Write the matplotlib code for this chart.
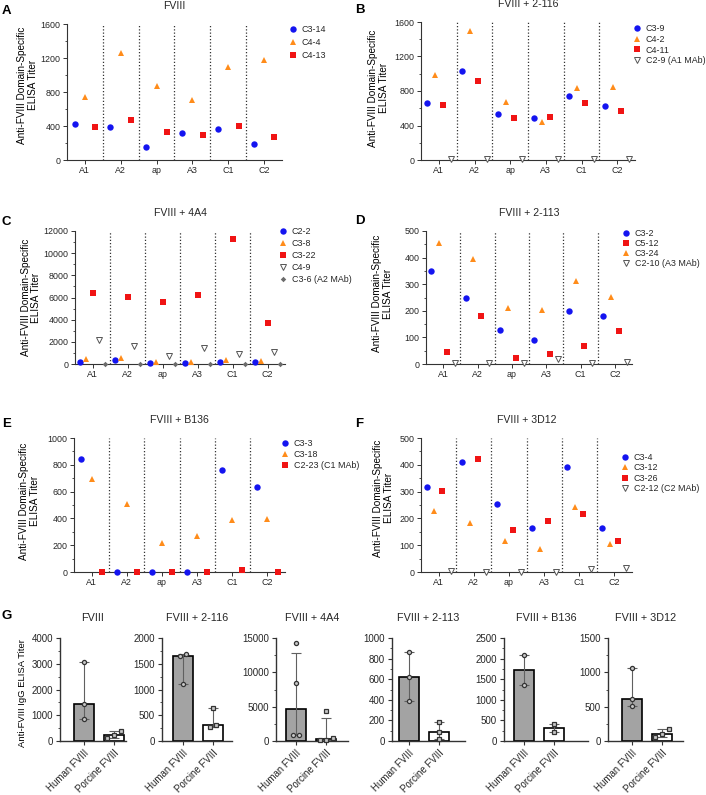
import numpy as np
import matplotlib
matplotlib.use("Agg")
import matplotlib.pyplot as plt
from matplotlib.ticker import MultipleLocator

# ==========================================================
# DATA
# ==========================================================

domains = ["A1", "A2", "ap", "A3", "C1", "C2"]

# A - FVIII
a_c3_14 = [428, 385, 153, 318, 370, 185]
a_c4_4 = [743, 1262, 876, 711, 1093, 1175]
a_c4_13 = [393, 468, 330, 295, 405, 271]

# B - FVIII + 2-116
b_c3_9 = [656, 1029, 532, 489, 742, 625]
b_c4_2 = [983, 1499, 676, 443, 839, 847]
b_c4_11 = [641, 920, 482, 501, 664, 571]
b_c2_9 = [15, 15, 15, 15, 15, 15]

# C - FVIII + 4A4
c_c2_2 = [180, 330, 120, 90, 180, 180]
c_c3_8 = [450, 570, 210, 180, 360, 240]
c_c3_22 = [6406, 6075, 5564, 6226, 11308, 3729]
c_c4_9 = [2195, 1654, 722, 1444, 872, 1113]
c_c3_6 = [0, 0, 0, 0, 0, 0]

# D - FVIII + 2-113
d_c3_2 = [349, 250, 128, 91, 198, 179]
d_c5_12 = [44, 180, 24, 36, 69, 124]
d_c3_24 = [455, 394, 211, 203, 311, 252]
d_c2_10 = [2, 2, 2, 17, 2, 8]

# E - FVIII + B136
e_c3_3 = [846, 0, 0, 0, 761, 637]
e_c3_18 = [692, 507, 219, 269, 386, 396]
e_c2_23 = [0, 0, 0, 0, 17, 2]

# F - FVIII + 3D12
f_c3_4 = [316, 412, 252, 164, 393, 163]
f_c3_12 = [228, 183, 117, 86, 244, 103]
f_c3_26 = [302, 420, 158, 190, 216, 116]
f_c2_12 = [5, 1, 1, 1, 10, 15]

# G - total IgG titers, individual animals
g_titles = ["FVIII", "FVIII + 2-116", "FVIII + 4A4",
            "FVIII + 2-113", "FVIII + B136", "FVIII + 3D12"]
g_groups = ["Human FVIII", "Porcine FVIII"]
g_human = [[3060, 1440, 870], [1680, 1660, 1100], [14200, 8500, 870, 850],
           [860, 625, 385], [2090, 1370], [1060, 610, 505]]
g_porcine = [[390, 230, 130], [650, 320, 270], [4300, 450, 170, 150],
             [185, 90, 15], [420, 220], [175, 105, 55]]

# ==========================================================
# STYLE / LAYOUT
# ==========================================================

W, H = 706, 795
BLUE = "#1414f0"
ORANGE = "#ff8c1a"
RED = "#f01414"
TXT = "#262626"

plt.rcParams["font.family"] = ["Liberation Sans", "DejaVu Sans"]
plt.rcParams["text.color"] = TXT
plt.rcParams["axes.edgecolor"] = "#333333"
plt.rcParams["axes.linewidth"] = 0.8

dot = dict(marker="o", color=BLUE, ms=4.6, mew=0)
tri = dict(marker="^", color=ORANGE, ms=4.8, mew=0)
sq = dict(marker="s", color=RED, ms=4.3, mew=0)
open_tri = dict(marker="v", mfc="white", mec="#555555", mew=0.7, ms=4.8)
dia = dict(marker="D", color="#6b6b6b", ms=2.8, mew=0)

OFF3 = [-0.29, 0.0, 0.29]
OFF4 = [-0.34, -0.12, 0.11, 0.34]
OFF5 = [-0.36, -0.18, 0.0, 0.18, 0.36]


def box(l, t, r, b):
    return [l / W, 1 - b / H, (r - l) / W, (b - t) / H]


def fxy(x, y):
    return (x / W, 1 - y / H)


# ==========================================================
# PANELS
# ==========================================================

def domain_panel(fig, ax, title, series, ymax, ystep, label_xy, leg_xy, leg_space):
    x = np.arange(len(domains))
    for label, vals, style, off in series:
        ax.plot(x + off, vals, ls="none", clip_on=False, zorder=3,
                label=label, **style)

    ax.set_xlim(-0.5, len(domains) - 0.5)
    ax.set_ylim(0, ymax)
    for b in np.arange(0.5, len(domains) - 0.5, 1):
        ax.axvline(b, color="#333333", lw=0.9, ls=(0, (1, 1.6)), zorder=1)

    ax.set_xticks(x, domains)
    ax.yaxis.set_major_locator(MultipleLocator(ystep))
    ax.yaxis.set_minor_locator(MultipleLocator(ystep / 2))
    ax.spines["top"].set_visible(False)
    ax.spines["right"].set_visible(False)
    ax.tick_params(axis="both", which="major", labelsize=6.4, length=3,
                   width=0.7, colors="#333333", labelcolor=TXT, pad=1.5)
    ax.tick_params(axis="y", which="minor", length=1.8, width=0.6, colors="#333333")

    ax.set_title(title, fontsize=7.6, pad=11)
    ax.set_ylabel("Anti-FVIII Domain-Specific\nELISA Titer", fontsize=7.2,
                  linespacing=1.1)
    ax.yaxis.set_label_coords(*label_xy)

    ax.legend(loc="upper left", bbox_to_anchor=fxy(*leg_xy),
              bbox_transform=fig.transFigure, frameon=False, fontsize=6.4,
              handlelength=1.0, handletextpad=0.45, labelspacing=leg_space,
              borderpad=0, borderaxespad=0, numpoints=1)


def spread(vals, ymax, gap=0.05, step=0.22):
    # side-by-side offsets for points that would overlap
    order = np.argsort(vals)
    offs = np.zeros(len(vals))
    clusters = [[order[0]]]
    for a, b in zip(order[:-1], order[1:]):
        if vals[b] - vals[a] < gap * ymax:
            clusters[-1].append(b)
        else:
            clusters.append([b])
    for c in clusters:
        for k, idx in enumerate(c):
            offs[idx] = (k - (len(c) - 1) / 2) * step
    return offs


def bar_panel(ax, title, human, porcine, ymax, ystep, xlim):
    for i, (vals, face, mk) in enumerate([(human, "#a3a3a3", "o"),
                                           (porcine, "white", "s")]):
        vals = np.asarray(vals, float)
        med = np.median(vals)
        q1, q3 = np.percentile(vals, [25, 75], method="weibull")
        ax.bar(i, med, width=0.67, color=face, edgecolor="black",
               lw=1.2, zorder=2)
        ax.errorbar(i, med, yerr=[[med - q1], [q3 - med]], fmt="none",
                    ecolor="#606060", elinewidth=0.8, capsize=3.5,
                    capthick=0.8, zorder=3)
        ax.plot(i + spread(vals, ymax), vals, ls="none", marker=mk, ms=3.0,
                mfc="#c8c8c8", mec="#333333", mew=0.9, zorder=4, clip_on=False)

    ax.set_xlim(*xlim)
    ax.set_ylim(0, ymax)
    ax.yaxis.set_major_locator(MultipleLocator(ystep))
    ax.yaxis.set_minor_locator(MultipleLocator(ystep / 2))
    ax.set_xticks([0, 1], g_groups, rotation=45, ha="right",
                  rotation_mode="anchor")
    ax.spines["top"].set_visible(False)
    ax.spines["right"].set_visible(False)
    ax.spines["left"].set_linewidth(1.0)
    ax.spines["bottom"].set_linewidth(1.0)
    ax.tick_params(axis="both", which="major", labelsize=7, length=3,
                   width=0.8, colors="#333333", labelcolor=TXT, pad=2)
    ax.tick_params(axis="y", which="minor", length=1.8, width=0.6, colors="#333333")
    ax.set_title(title, fontsize=7.8, pad=12)


# ==========================================================
# MAIN
# ==========================================================

def main():
    fig = plt.figure(figsize=(W / 100, H / 100), dpi=100)

    ax_a = fig.add_axes(box(67, 24, 282, 160))
    domain_panel(fig, ax_a, "FVIII",
                 [("C3-14", a_c3_14, dot, OFF3[0]),
                  ("C4-4", a_c4_4, tri, OFF3[1]),
                  ("C4-13", a_c4_13, sq, OFF3[2])],
                 1600, 400, (-0.135, 0.55), (289, 25), 0.45)

    ax_b = fig.add_axes(box(421, 22, 635, 160))
    domain_panel(fig, ax_b, "FVIII + 2-116",
                 [("C3-9", b_c3_9, dot, OFF4[0]),
                  ("C4-2", b_c4_2, tri, OFF4[1]),
                  ("C4-11", b_c4_11, sq, OFF4[2]),
                  ("C2-9 (A1 MAb)", b_c2_9, open_tri, OFF4[3])],
                 1600, 400, (-0.15, 0.52), (633, 24), 0.2)

    ax_c = fig.add_axes(box(75, 231, 285, 364))
    domain_panel(fig, ax_c, "FVIII + 4A4",
                 [("C2-2", c_c2_2, dot, OFF5[0]),
                  ("C3-8", c_c3_8, tri, OFF5[1]),
                  ("C3-22", c_c3_22, sq, OFF5[2]),
                  ("C4-9", c_c4_9, open_tri, OFF5[3]),
                  ("C3-6 (A2 MAb)", c_c3_6, dia, OFF5[4])],
                 12000, 2000, (-0.16, 0.5), (279, 227), 0.35)

    ax_d = fig.add_axes(box(426, 231, 632, 364))
    domain_panel(fig, ax_d, "FVIII + 2-113",
                 [("C3-2", d_c3_2, dot, OFF4[0]),
                  ("C5-12", d_c5_12, sq, OFF4[2]),
                  ("C3-24", d_c3_24, tri, OFF4[1]),
                  ("C2-10 (A3 MAb)", d_c2_10, open_tri, OFF4[3])],
                 500, 100, (-0.16, 0.53), (622, 229), 0.1)

    ax_e = fig.add_axes(box(74, 438, 285, 572))
    domain_panel(fig, ax_e, "FVIII + B136",
                 [("C3-3", e_c3_3, dot, OFF3[0]),
                  ("C3-18", e_c3_18, tri, OFF3[1]),
                  ("C2-23 (C1 MAb)", e_c2_23, sq, OFF3[2])],
                 1000, 200, (-0.161, 0.53), (281, 439), 0.22)

    ax_f = fig.add_axes(box(421, 438, 632, 572))
    domain_panel(fig, ax_f, "FVIII + 3D12",
                 [("C3-4", f_c3_4, dot, OFF4[0]),
                  ("C3-12", f_c3_12, tri, OFF4[1]),
                  ("C3-26", f_c3_26, sq, OFF4[2]),
                  ("C2-12 (C2 MAb)", f_c2_12, open_tri, OFF4[3])],
                 500, 100, (-0.13, 0.55), (621, 453), 0.15)

    # ------------------------------------------------------
    # G
    # ------------------------------------------------------
    g_boxes = [(60, 126), (162, 232), (276, 348), (392, 465), (504, 588), (608, 683)]
    g_xlims = [(-0.8, 1.4), (-0.7, 1.63), (-0.67, 1.73),
               (-0.57, 1.87), (-0.67, 2.13), (-0.8, 1.7)]
    g_ymax = [4000, 2000, 15000, 1000, 2500, 1500]
    g_step = [1000, 500, 5000, 200, 500, 500]

    for k in range(6):
        l, r = g_boxes[k]
        ax = fig.add_axes(box(l, 638, r, 741))
        bar_panel(ax, g_titles[k], g_human[k], g_porcine[k],
                  g_ymax[k], g_step[k], g_xlims[k])
        if k == 0:
            ax.set_ylabel("Anti-FVIII IgG ELISA Titer", fontsize=6.8)
            ax.yaxis.set_label_coords(-0.5, 0.47)

    # panel letters
    for letter, (x, y) in zip("ABCDEFG", [(2, 11), (355, 10), (2, 222), (355, 221),
                                          (2, 424), (355, 424), (2, 616)]):
        fig.text(*fxy(x, y), letter, fontsize=9.5, fontweight="bold",
                 ha="left", va="center", color="black")

    fig.savefig("out.png", dpi=100)


if __name__ == "__main__":
    main()
